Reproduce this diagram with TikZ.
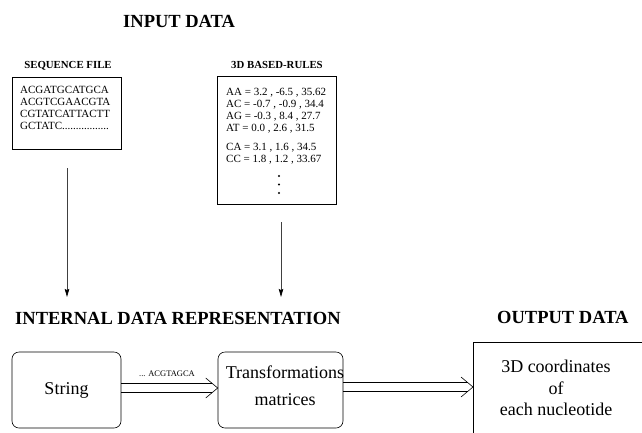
\documentclass[tikz,border=0pt]{standalone}
\usepackage{fontspec}
\setmainfont{Liberation Serif}
\usetikzlibrary{arrows.meta}

% double-shafted arrow with an open chevron head: #1 start, #2 tip
\newcommand{\openarrow}[2]{%
  \draw[wire] ([yshift=4.5pt]#1) -- ([yshift=4.5pt,xshift=-5.4pt]#2);
  \draw[wire] ([yshift=-4.5pt]#1) -- ([yshift=-4.5pt,xshift=-5.4pt]#2);
  \draw[wire] ([xshift=-12pt,yshift=10pt]#2) -- (#2) -- ([xshift=-12pt,yshift=-10pt]#2);}

\begin{document}
\begin{tikzpicture}[x=1pt,y=-1pt,
  heading/.style={font=\fontsize{18.5}{22}\selectfont\bfseries, inner sep=0},
  subheading/.style={font=\fontsize{10.8}{12}\selectfont\bfseries, inner sep=0, anchor=base},
  listing/.style={font=\fontsize{11}{12}\selectfont, inner sep=0, align=left, anchor=north west},
  box/.style={draw, line width=0.6pt},
  rbox/.style={draw, line width=0.6pt, rounded corners=7pt, font=\fontsize{18}{22}\selectfont},
  wire/.style={line width=0.6pt},
  down/.style={line width=0.7pt, black!75, -{Stealth[length=8pt,width=4.5pt,inset=1pt,black]}},
  body/.style={font=\fontsize{18}{21.5}\selectfont, inner sep=0, align=center}]

\useasboundingbox (0,0) rectangle (642,432);
\clip (0,0) rectangle (642,432);

% headings
\node[heading, anchor=base west] (hin) at (123,27) {INPUT DATA};
\node[heading, anchor=base west] (hint) at (15,324) {INTERNAL DATA REPRESENTATION};
\node[heading, anchor=base west] (hout) at (497,323) {OUTPUT DATA};

% input: sequence file
\node[subheading] (hseq) at (68,68) {SEQUENCE FILE};
\node[box, minimum width=109, minimum height=72] (seq) at (66.5,113) {};
\node[listing] (seqtext) at (20,86.5) {ACGATGCATGCA\\ACGTCGAACGTA\\CGTATCATTACTT\\GCTATC.................};

% input: 3D based rules
\node[subheading] (hrules) at (277,68) {3D BASED-RULES};
\node[box, minimum width=119, minimum height=128] (rules) at (276.5,140) {};
\node[listing] (rulestext) at (226,88.5) {AA = 3.2 , -6.5 , 35.62\\AC = -0.7 , -0.9 , 34.4\\AG = -0.3 , 8.4 , 27.7\\AT = 0.0 , 2.6 , 31.5\\[7pt]CA = 3.1 , 1.6 , 34.5\\CC = 1.8 , 1.2 , 33.67};
\foreach \y in {176,184.5,193} \fill (279,\y) circle (1.1pt);

% flows down to the internal representation
\coordinate (d1a) at (67,168);
\coordinate (d1b) at (67,297);
\coordinate (d2a) at (281,222);
\coordinate (d2b) at (281,297);
\draw[down] (d1a) -- (d1b);
\draw[down] (d2a) -- (d2b);

% internal representation
\node[rbox, minimum width=109, minimum height=76] (str) at (66.5,390) {String};
\node[rbox, minimum width=125, minimum height=76] (tr) at (280.5,390) {};
\node[body, font=\fontsize{18}{27}\selectfont] (trtext) at (285,386) {Transformations\\matrices};

% output
\node[box, anchor=north west, minimum width=220, minimum height=120] (outb) at (473,342) {};
\node[body] (outtext) at (556,388) {3D coordinates\\of\\each nucleotide};

% connectors
\coordinate (a1s) at ([yshift=2pt]str.east);
\coordinate (a1e) at ([yshift=2pt]tr.west);
\coordinate (a2s) at ([yshift=3pt]tr.east);
\coordinate (a2e) at (outb.west |- a2s);
\openarrow{a1s}{a1e}
\openarrow{a2s}{a2e}
\node[font=\fontsize{8.5}{10}\selectfont, anchor=base, inner sep=0] (lbl) at (167,376) {... ACGTAGCA};

\end{tikzpicture}
\end{document}
